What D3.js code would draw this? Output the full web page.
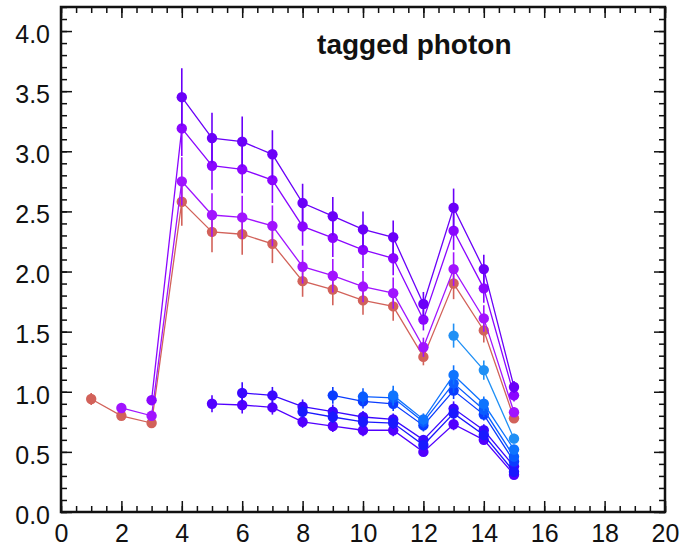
<!DOCTYPE html>
<html>
<head>
<meta charset="utf-8">
<script src="https://cdn.jsdelivr.net/npm/d3@7"></script>
<style>
  body { margin: 0; background: #fff; }
  svg { display: block; }
  .tick-label text { font-family: "Liberation Sans", Arial, sans-serif; font-size: 25px; fill: #111; }
  .title { font-family: "Liberation Sans", Arial, sans-serif; font-size: 28px; font-weight: bold; fill: #111; }
</style>
</head>
<body>
<svg id="chart"></svg>
<script>
// x positions shared by all series
const xs = [1, 2, 3, 4, 5, 6, 7, 8, 9, 10, 11, 12, 13, 14, 15];

// upper group (null = no point)
const redVals   = [0.94, 0.80, 0.74, 2.58, 2.33, 2.31, 2.23, 1.92, 1.85, 1.76, 1.71, 1.29, 1.90, 1.51, 0.78];
const redErr    = [0.05, 0.03, 0.03, 0.20, 0.17, 0.17, 0.16, 0.13, 0.13, 0.12, 0.12, 0.07, 0.13, 0.10, 0.04];
const violetVals = [null, 0.865, 0.80, 2.75, 2.47, 2.45, 2.38, 2.04, 1.965, 1.875, 1.82, 1.37, 2.02, 1.61, 0.83];
const violetErr  = [null, 0.03, 0.03, 0.20, 0.18, 0.18, 0.17, 0.14, 0.14, 0.13, 0.13, 0.08, 0.14, 0.11, 0.04];
const purpleVals = [null, null, 0.93, 3.19, 2.88, 2.85, 2.76, 2.375, 2.28, 2.18, 2.11, 1.60, 2.34, 1.86, 0.97];
const purpleErr  = [null, null, 0.04, 0.23, 0.20, 0.20, 0.19, 0.16, 0.16, 0.15, 0.14, 0.09, 0.16, 0.12, 0.05];
const indigoVals = [null, null, null, 3.45, 3.11, 3.08, 2.975, 2.57, 2.46, 2.35, 2.285, 1.73, 2.53, 2.02, 1.04];
const indigoErr  = [null, null, null, 0.24, 0.21, 0.21, 0.20, 0.16, 0.16, 0.15, 0.14, 0.10, 0.16, 0.12, 0.05];

// lower group
const b1Vals = [null, null, null, null, 0.90, 0.89, 0.87, 0.75, 0.715, 0.68, 0.68, 0.50, 0.73, 0.60, 0.31];
const b1Err  = [null, null, null, null, 0.07, 0.07, 0.06, 0.05, 0.05, 0.05, 0.05, 0.03, 0.05, 0.04, 0.02];
const b2Vals = [null, null, null, null, null, 0.99, 0.97, 0.876, 0.834, 0.79, 0.77, 0.60, 0.86, 0.68, 0.38];
const b2Err  = [null, null, null, null, null, 0.09, 0.07, 0.06, 0.06, 0.05, 0.05, 0.04, 0.06, 0.05, 0.03];
const b3Vals = [null, null, null, null, null, null, null, 0.834, 0.79, 0.75, 0.74, 0.557, 0.82, 0.64, 0.335];
const b3Err  = [null, null, null, null, null, null, null, 0.05, 0.05, 0.05, 0.05, 0.03, 0.05, 0.04, 0.02];
const b4Vals = [null, null, null, null, null, null, null, null, 0.97, 0.92, 0.90, 0.72, 1.01, 0.81, 0.42];
const b4Err  = [null, null, null, null, null, null, null, null, 0.07, 0.06, 0.06, 0.05, 0.07, 0.05, 0.03];
const b5Vals = [null, null, null, null, null, null, null, null, null, 0.96, 0.95, 0.75, 1.07, 0.85, 0.46];
const b5Err  = [null, null, null, null, null, null, null, null, null, 0.07, 0.07, 0.05, 0.08, 0.06, 0.03];
const b6Vals = [null, null, null, null, null, null, null, null, null, null, 0.97, 0.77, 1.14, 0.90, 0.52];
const b6Err  = [null, null, null, null, null, null, null, null, null, null, 0.08, 0.05, 0.08, 0.06, 0.04];
const skyVals = [null, null, null, null, null, null, null, null, null, null, null, null, 1.467, 1.18, 0.61];
const skyErr  = [null, null, null, null, null, null, null, null, null, null, null, null, 0.10, 0.08, 0.04];

const seriesNames  = ['red', 'violet', 'purple', 'indigo', 'b1', 'b2', 'b3', 'b4', 'b5', 'b6', 'sky'];
const seriesColors = ['#d2625a', '#a114ff', '#8a06ff', '#6a00f8', '#5200ff', '#3a08ff', '#1a18ff', '#0a3cff', '#0a5cff', '#0f74ff', '#2090f5'];
const seriesVals   = [redVals, violetVals, purpleVals, indigoVals, b1Vals, b2Vals, b3Vals, b4Vals, b5Vals, b6Vals, skyVals];
const seriesErrs   = [redErr, violetErr, purpleErr, indigoErr, b1Err, b2Err, b3Err, b4Err, b5Err, b6Err, skyErr];

const xMajor = [0, 2, 4, 6, 8, 10, 12, 14, 16, 18, 20];
const yMajor = [0.0, 0.5, 1.0, 1.5, 2.0, 2.5, 3.0, 3.5, 4.0];
const titleText = 'tagged photon';

const config = {
  width: 682,
  height: 548,
  margin: { top: 7, right: 17, bottom: 36, left: 61 }
};

const innerW = config.width - config.margin.left - config.margin.right;
const innerH = config.height - config.margin.top - config.margin.bottom;

const svg = d3.select('#chart')
  .attr('width', config.width)
  .attr('height', config.height);

const g = svg.append('g')
  .attr('transform', `translate(${config.margin.left},${config.margin.top})`);

// Scales
const xScale = d3.scaleLinear().domain([0, 20]).range([0, innerW]);
const yScale = d3.scaleLinear().domain([0, 4.2]).range([innerH, 0]);

const xMinor = d3.range(0, 20.001, 0.5);
const yMinor = d3.range(0, 4.2001, 0.1).map(d => +d.toFixed(1));

// Ticks pointing inward on all four sides
function tickAxis(axisFn, scale, values, size, transform) {
  const ax = g.append('g')
    .attr('transform', transform)
    .call(axisFn(scale).tickValues(values).tickSize(-size).tickFormat(''));
  ax.select('.domain').remove();
  ax.selectAll('line').attr('stroke', '#111').attr('stroke-width', 1.5);
  return ax;
}

tickAxis(d3.axisBottom, xScale, xMinor, 6, `translate(0,${innerH})`);
tickAxis(d3.axisBottom, xScale, xMajor, 11, `translate(0,${innerH})`);
tickAxis(d3.axisTop, xScale, xMinor, 6, 'translate(0,0)');
tickAxis(d3.axisTop, xScale, xMajor, 11, 'translate(0,0)');
tickAxis(d3.axisLeft, yScale, yMinor, 6, 'translate(0,0)');
tickAxis(d3.axisLeft, yScale, yMajor, 11, 'translate(0,0)');
tickAxis(d3.axisRight, yScale, yMinor, 6, `translate(${innerW},0)`);
tickAxis(d3.axisRight, yScale, yMajor, 11, `translate(${innerW},0)`);

// Tick labels
const xLab = g.append('g')
  .attr('class', 'tick-label')
  .attr('transform', `translate(0,${innerH})`)
  .call(d3.axisBottom(xScale).tickValues(xMajor).tickSize(0).tickPadding(12).tickFormat(d3.format('d')));
xLab.select('.domain').remove();
xLab.selectAll('text').attr('dy', '0.72em');

const yLab = g.append('g')
  .attr('class', 'tick-label')
  .call(d3.axisLeft(yScale).tickValues(yMajor).tickSize(0).tickPadding(11).tickFormat(d3.format('.1f')));
yLab.select('.domain').remove();
yLab.selectAll('text').attr('dy', '0.45em');

// Frame
g.append('rect')
  .attr('width', innerW)
  .attr('height', innerH)
  .attr('fill', 'none')
  .attr('stroke', '#111')
  .attr('stroke-width', 2.5);

// Title
g.append('text')
  .attr('class', 'title')
  .attr('x', xScale(8.48))
  .attr('y', yScale(3.81))
  .text(titleText);

// Series
const line = d3.line()
  .defined(d => d.y != null)
  .x(d => xScale(d.x))
  .y(d => yScale(d.y));

seriesNames.forEach((name, i) => {
  const pts = xs.map((x, j) => ({ x: x, y: seriesVals[i][j], e: seriesErrs[i][j] }))
    .filter(d => d.y != null);
  const color = seriesColors[i];
  const sg = g.append('g').attr('class', `series-${name}`);

  sg.append('path')
    .datum(pts)
    .attr('d', line)
    .attr('fill', 'none')
    .attr('stroke', color)
    .attr('stroke-width', 1.3);

  sg.selectAll('.err')
    .data(pts)
    .join('line')
    .attr('class', 'err')
    .attr('x1', d => xScale(d.x))
    .attr('x2', d => xScale(d.x))
    .attr('y1', d => yScale(d.y - d.e))
    .attr('y2', d => yScale(d.y + d.e))
    .attr('stroke', color)
    .attr('stroke-width', 1.6);

  sg.selectAll('.dot')
    .data(pts)
    .join('circle')
    .attr('class', 'dot')
    .attr('cx', d => xScale(d.x))
    .attr('cy', d => yScale(d.y))
    .attr('r', 5.2)
    .attr('fill', color);
});
</script>
</body>
</html>
